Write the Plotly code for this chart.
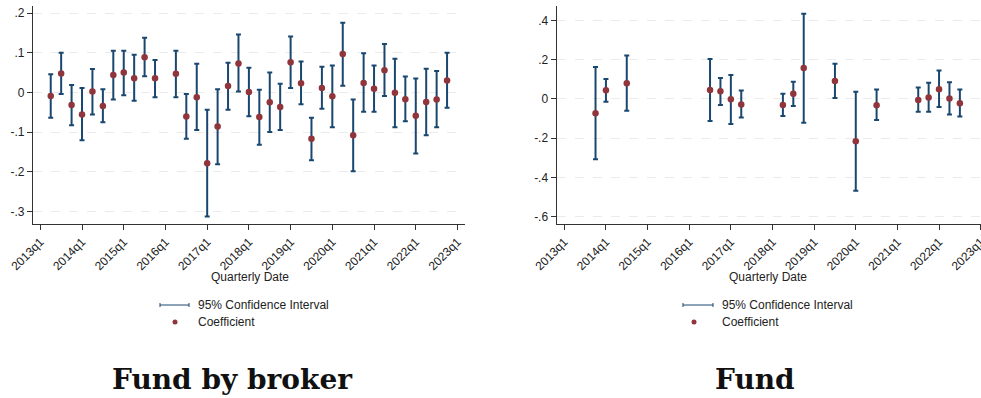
import plotly.graph_objects as go

W, H = 981, 398

# ---------------- data ----------------
left_quarters = ["2013q2", "2013q3", "2013q4", "2014q1", "2014q2", "2014q3", "2014q4",
                 "2015q1", "2015q2", "2015q3", "2015q4", "2016q2", "2016q3", "2016q4",
                 "2017q1", "2017q2", "2017q3", "2017q4", "2018q1", "2018q2", "2018q3",
                 "2018q4", "2019q1", "2019q2", "2019q3", "2019q4", "2020q1", "2020q2",
                 "2020q3", "2020q4", "2021q1", "2021q2", "2021q3", "2021q4", "2022q1",
                 "2022q2", "2022q3", "2022q4"]
left_coef = [-0.009, 0.048, -0.032, -0.056, 0.002, -0.034, 0.044, 0.050, 0.036, 0.089, 0.036,
             0.047, -0.061, -0.012, -0.179, -0.086, 0.016, 0.073, 0.001, -0.062, -0.025,
             -0.037, 0.076, 0.023, -0.117, 0.011, -0.010, 0.097, -0.108, 0.024, 0.009,
             0.056, -0.001, -0.017, -0.059, -0.024, -0.018, 0.030]
left_hi = [0.046, 0.100, 0.019, 0.011, 0.059, 0.008, 0.105, 0.105, 0.095, 0.138, 0.082,
           0.105, -0.004, 0.072, -0.044, 0.008, 0.075, 0.146, 0.062, 0.007, 0.050,
           0.022, 0.141, 0.078, -0.064, 0.065, 0.068, 0.176, -0.018, 0.099, 0.068,
           0.122, 0.085, 0.040, 0.035, 0.060, 0.054, 0.100]
left_lo = [-0.064, -0.004, -0.083, -0.121, -0.056, -0.075, -0.018, -0.007, -0.021, 0.041, -0.012,
           -0.012, -0.117, -0.095, -0.313, -0.181, -0.044, 0.002, -0.060, -0.132, -0.100,
           -0.095, 0.011, -0.030, -0.171, -0.041, -0.088, 0.017, -0.199, -0.049, -0.049,
           -0.009, -0.088, -0.073, -0.154, -0.108, -0.088, -0.039]

right_quarters = ["2013q4", "2014q1", "2014q3", "2016q3", "2016q4", "2017q1", "2017q2",
                  "2018q2", "2018q3", "2018q4", "2019q3", "2020q1", "2020q3", "2021q3",
                  "2021q4", "2022q1", "2022q2", "2022q3"]
right_coef = [-0.073, 0.044, 0.080, 0.046, 0.039, -0.002, -0.029, -0.031, 0.026, 0.158,
              0.092, -0.216, -0.032, -0.005, 0.007, 0.049, 0.002, -0.022]
right_hi = [0.163, 0.102, 0.221, 0.204, 0.107, 0.122, 0.043, 0.027, 0.088, 0.434,
            0.180, 0.037, 0.048, 0.058, 0.083, 0.145, 0.085, 0.048]
right_lo = [-0.308, -0.014, -0.060, -0.112, -0.031, -0.128, -0.095, -0.087, -0.036, -0.122,
            0.005, -0.469, -0.107, -0.066, -0.066, -0.041, -0.080, -0.090]

x_tick_labels = ["2013q1", "2014q1", "2015q1", "2016q1", "2017q1", "2018q1",
                 "2019q1", "2020q1", "2021q1", "2022q1", "2023q1"]
left_y_ticks = [0.2, 0.1, 0.0, -0.1, -0.2, -0.3]
left_y_labels = [".2", ".1", "0", "-.1", "-.2", "-.3"]
right_y_ticks = [0.4, 0.2, 0.0, -0.2, -0.4, -0.6]
right_y_labels = [".4", ".2", "0", "-.2", "-.4", "-.6"]
panel_titles = ["Fund by broker", "Fund"]

NAVY = "#1a476f"
MAROON = "#90353b"
FONT = "Liberation Sans"


def qidx(label):
    y, q = label.split("q")
    return (int(y) - 2013) * 4 + int(q) - 1


fig = go.Figure()


def add_panel(quarters, coef, hi, lo, xa, ya):
    fig.add_trace(go.Scatter(
        x=[qidx(q) for q in quarters], y=coef, mode="markers",
        marker=dict(color=MAROON, size=6.5),
        error_y=dict(type="data", symmetric=False,
                     array=[h - c for h, c in zip(hi, coef)],
                     arrayminus=[c - l for c, l in zip(coef, lo)],
                     color=NAVY, thickness=2, width=2.5),
        xaxis=xa, yaxis=ya, showlegend=False, hoverinfo="skip"))


add_panel(left_quarters, left_coef, left_hi, left_lo, "x", "y")
add_panel(right_quarters, right_coef, right_hi, right_lo, "x2", "y2")

ydom = [1 - 224 / H, 1 - 6 / H]
xcommon = dict(tickmode="array", tickvals=[qidx(t) for t in x_tick_labels], ticktext=x_tick_labels,
               tickangle=-45, ticks="outside", ticklen=5, tickcolor="#333", showline=True,
               linecolor="#333", linewidth=1.3, showgrid=False, zeroline=False,
               automargin=False, ticklabeloverflow="allow",
               tickfont=dict(family=FONT, size=12, color="#222"))
ycommon = dict(ticks="outside", ticklen=5, tickcolor="#333", showline=True,
               linecolor="#333", linewidth=1.3, showgrid=True, gridcolor="#ebebeb",
               griddash="dash", gridwidth=1, zeroline=False, automargin=False,
               tickfont=dict(family=FONT, size=12, color="#222"))

fig.update_layout(
    width=W, height=H, margin=dict(l=0, r=0, t=0, b=0),
    paper_bgcolor="white", plot_bgcolor="white",
    xaxis=dict(domain=[33 / W, 465 / W], range=[-0.70, 40.72], anchor="y", **xcommon),
    yaxis=dict(domain=ydom, range=[-0.332, 0.218], anchor="x", tickmode="array",
               tickvals=left_y_ticks, ticktext=left_y_labels, **ycommon),
    xaxis2=dict(domain=[556.7 / W, 1.0], range=[-0.73, 40.03], anchor="y2", **xcommon),
    yaxis2=dict(domain=ydom, range=[-0.638, 0.474], anchor="x2", tickmode="array",
                tickvals=right_y_ticks, ticktext=right_y_labels, **ycommon),
)


def px(x):
    return x / W


def py(y):
    return 1 - y / H


annotations = []
shapes = []
panels = [
    dict(axis_cx=250, leg_x0=160, leg_x1=189, dot_x=175, text_x=196, title_cx=232, title=panel_titles[0]),
    dict(axis_cx=768, leg_x0=683, leg_x1=713, dot_x=694, text_x=720, title_cx=755, title=panel_titles[1]),
]
for p in panels:
    annotations.append(dict(x=px(p["axis_cx"]), y=py(277), xref="paper", yref="paper",
                            text="Quarterly Date", showarrow=False, xanchor="center", yanchor="middle",
                            font=dict(family=FONT, size=12, color="#222")))
    annotations.append(dict(x=px(p["text_x"]), y=py(305), xref="paper", yref="paper",
                            text="95% Confidence Interval", showarrow=False, xanchor="left", yanchor="middle",
                            font=dict(family=FONT, size=12, color="#222")))
    annotations.append(dict(x=px(p["text_x"]), y=py(322), xref="paper", yref="paper",
                            text="Coefficient", showarrow=False, xanchor="left", yanchor="middle",
                            font=dict(family=FONT, size=12, color="#222")))
    annotations.append(dict(x=px(p["title_cx"]), y=py(379), xref="paper", yref="paper",
                            text="<b>" + p["title"] + "</b>", showarrow=False, xanchor="center",
                            yanchor="middle",
                            font=dict(family="DejaVu Serif", size=28, color="#111")))
    x0, x1 = p["leg_x0"], p["leg_x1"]
    shapes.append(dict(type="line", xref="paper", yref="paper", x0=px(x0), x1=px(x1),
                       y0=py(305), y1=py(305), line=dict(color=NAVY, width=1)))
    for xe in (x0, x1):
        shapes.append(dict(type="line", xref="paper", yref="paper", x0=px(xe), x1=px(xe),
                           y0=py(303), y1=py(307), line=dict(color=NAVY, width=1)))
    cx = p["dot_x"]
    shapes.append(dict(type="circle", xref="paper", yref="paper", x0=px(cx - 2.5), x1=px(cx + 2.5),
                       y0=py(319.5), y1=py(324.5), fillcolor=MAROON, line=dict(width=0)))

fig.update_layout(annotations=annotations, shapes=shapes)
fig.write_html("out.html")
